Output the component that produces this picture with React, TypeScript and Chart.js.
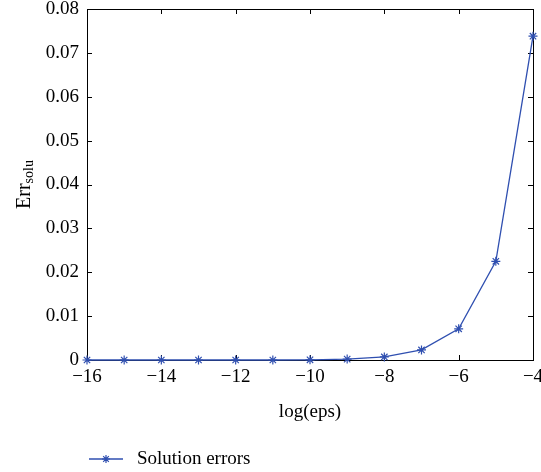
import React, { useEffect, useRef } from 'react';
import { Chart, registerables } from 'chart.js';

Chart.register(...registerables);

const xValues = [-16, -15, -14, -13, -12, -11, -10, -9, -8, -7, -6, -5, -4];
const errValues = [0, 0, 0, 0, 0, 0, 0.00005, 0.0002, 0.0007, 0.0023, 0.0071, 0.0225, 0.0738];
const xTicks = [-16, -14, -12, -10, -8, -6, -4];
const yTicks = [0, 0.01, 0.02, 0.03, 0.04, 0.05, 0.06, 0.07, 0.08];
const seriesLabel = 'Solution errors';
const xTitle = 'log(eps)';
const yTitleMain = 'Err';
const yTitleSub = 'solu';

const FONT = 'Liberation Serif';
const LINE_COLOR = '#2f4fb0';

const fmtX = (v: number) => (v < 0 ? '\u2212' + Math.abs(v) : String(v));
const fmtY = (v: number) => (v === 0 ? '0' : v.toFixed(2));

const drawStar = (ctx: CanvasRenderingContext2D, x: number, y: number, r: number) => {
  ctx.beginPath();
  ctx.moveTo(x - r, y); ctx.lineTo(x + r, y);
  ctx.moveTo(x, y - r); ctx.lineTo(x, y + r);
  const d = r * 0.7071;
  ctx.moveTo(x - d, y - d); ctx.lineTo(x + d, y + d);
  ctx.moveTo(x - d, y + d); ctx.lineTo(x + d, y - d);
  ctx.stroke();
};

const framePlugin = {
  id: 'frame',
  beforeDatasetsDraw(chart: any) {
    const { ctx, chartArea: a, scales } = chart;
    ctx.save();
    ctx.strokeStyle = '#000';
    ctx.lineWidth = 1;
    ctx.strokeRect(Math.round(a.left) + 0.5, Math.round(a.top) + 0.5, Math.round(a.right - a.left), Math.round(a.bottom - a.top));
    const tl = 5;
    ctx.beginPath();
    for (const v of xTicks) {
      const px = Math.round(scales.x.getPixelForValue(v)) + 0.5;
      ctx.moveTo(px, a.bottom); ctx.lineTo(px, a.bottom - tl);
      ctx.moveTo(px, a.top); ctx.lineTo(px, a.top + tl);
    }
    for (const v of yTicks) {
      const py = Math.round(scales.y.getPixelForValue(v)) + 0.5;
      ctx.moveTo(a.left, py); ctx.lineTo(a.left + tl, py);
      ctx.moveTo(a.right, py); ctx.lineTo(a.right - tl, py);
    }
    ctx.stroke();
    ctx.restore();
  },
  afterDraw(chart: any) {
    const { ctx, chartArea: a } = chart;
    ctx.save();
    ctx.fillStyle = '#000';
    // x title
    ctx.font = `19px "${FONT}"`;
    ctx.textAlign = 'center';
    ctx.textBaseline = 'middle';
    ctx.fillText(xTitle, (a.left + a.right) / 2, 412);
    // y title with subscript
    ctx.save();
    ctx.translate(24, (a.top + a.bottom) / 2);
    ctx.rotate(-Math.PI / 2);
    ctx.font = `20px "${FONT}"`;
    const wMain = ctx.measureText(yTitleMain).width;
    ctx.font = `14px "${FONT}"`;
    const wSub = ctx.measureText(yTitleSub).width;
    const total = wMain + wSub;
    ctx.textAlign = 'left';
    ctx.textBaseline = 'alphabetic';
    ctx.font = `20px "${FONT}"`;
    ctx.fillText(yTitleMain, -total / 2, 6);
    ctx.font = `14px "${FONT}"`;
    ctx.fillText(yTitleSub, -total / 2 + wMain, 9);
    ctx.restore();
    // legend
    const ly = 459;
    ctx.strokeStyle = LINE_COLOR;
    ctx.lineWidth = 1.3;
    ctx.beginPath();
    ctx.moveTo(89, ly); ctx.lineTo(123, ly);
    ctx.stroke();
    ctx.lineWidth = 1.2;
    drawStar(ctx, 106, ly, 4);
    ctx.fillStyle = '#000';
    ctx.font = `19px "${FONT}"`;
    ctx.textAlign = 'left';
    ctx.textBaseline = 'middle';
    ctx.fillText(seriesLabel, 137, ly);
    ctx.restore();
  },
};

export default function App() {
  const ref = useRef<HTMLCanvasElement>(null);
  useEffect(() => {
    if (!ref.current) return;
    const chart = new Chart(ref.current, {
      type: 'scatter',
      data: {
        datasets: [
          {
            label: seriesLabel,
            data: xValues.map((x, i) => ({ x, y: errValues[i] })),
            showLine: true,
            borderColor: LINE_COLOR,
            backgroundColor: LINE_COLOR,
            borderWidth: 1.3,
            pointStyle: 'star',
            pointRadius: 4.5,
            pointBorderWidth: 1.2,
            pointBorderColor: LINE_COLOR,
            clip: false as any,
          },
        ],
      },
      options: {
        animation: false,
        responsive: false,
        devicePixelRatio: 1,
        layout: { padding: { left: 0, right: 8, top: 9, bottom: 0 } },
        plugins: { legend: { display: false }, tooltip: { enabled: false } },
        scales: {
          x: {
            type: 'linear',
            min: -16,
            max: -4,
            grid: { display: false, drawTicks: false },
            border: { display: false },
            afterBuildTicks: (s: any) => { s.ticks = xTicks.map((v) => ({ value: v })); },
            afterFit: (s: any) => { s.height = 112; s.paddingLeft = 0; s.paddingRight = 0; },
            ticks: {
              color: '#000',
              font: { family: FONT, size: 19 },
              padding: 6,
              maxRotation: 0,
              autoSkip: false,
              callback: (v: any) => fmtX(Number(v)),
            },
          },
          y: {
            type: 'linear',
            min: 0,
            max: 0.08,
            grid: { display: false, drawTicks: false },
            border: { display: false },
            afterBuildTicks: (s: any) => { s.ticks = yTicks.map((v) => ({ value: v })); },
            afterFit: (s: any) => { s.width = 87; s.paddingTop = 0; s.paddingBottom = 0; },
            ticks: {
              color: '#000',
              font: { family: FONT, size: 19 },
              padding: 8,
              autoSkip: false,
              callback: (v: any) => fmtY(Number(v)),
            },
          },
        },
      },
      plugins: [framePlugin],
    });
    return () => chart.destroy();
  }, []);
  return (
    <div style={{ position: 'fixed', left: 0, top: 0, width: 541, height: 472, background: '#fff' }}>
      <canvas ref={ref} width={541} height={472} style={{ display: 'block' }} />
    </div>
  );
}
